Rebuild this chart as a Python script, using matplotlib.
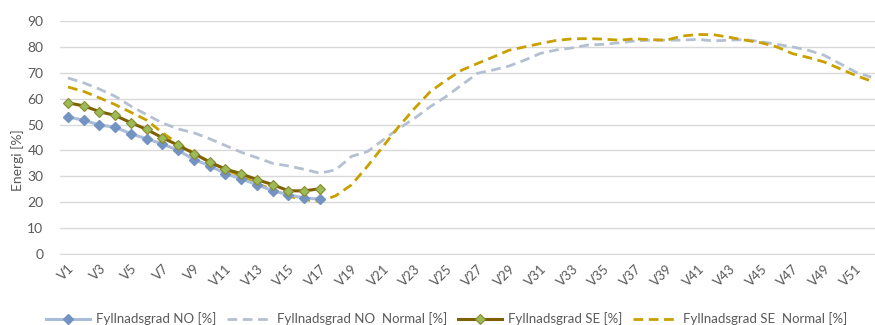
import numpy as np
import matplotlib.pyplot as plt

plt.rcParams['font.family'] = ['Lato', 'DejaVu Sans']

weeks = [f'V{i}' for i in range(1, 53)]

# reservoir filling, current year (weeks 1-17)
no_fill = [52.9, 51.7, 49.8, 49.0, 46.4, 44.5, 42.5, 40.0, 36.5, 34.1,
           31.0, 29.0, 26.8, 24.4, 22.9, 21.6, 21.2]
se_fill = [58.4, 57.2, 55.0, 53.5, 50.7, 48.1, 44.9, 42.0, 38.8, 35.5,
           32.8, 31.0, 28.7, 26.8, 24.4, 24.4, 25.2]

# normal filling per week
no_normal = [68.0, 66.1, 63.7, 60.9, 57.1, 53.8, 50.6, 48.3, 46.8, 44.5,
             41.9, 39.3, 37.2, 35.0, 34.0, 32.7, 31.2, 32.5, 37.7, 39.5,
             44.0, 48.5, 52.4, 56.9, 60.8, 65.3, 69.8, 71.1, 72.6, 74.9,
             77.5, 78.8, 79.6, 80.7, 81.0, 81.6, 82.3, 82.6, 82.6, 82.6,
             82.9, 82.3, 82.6, 82.8, 82.0, 81.0, 80.0, 78.7, 76.8, 73.6,
             70.3, 68.3]
se_normal = [64.5, 62.8, 60.3, 57.7, 54.7, 51.7, 46.8, 42.6, 39.0, 35.5,
             32.6, 30.0, 27.2, 24.9, 22.3, 21.0, 20.3, 22.5, 26.7, 33.8,
             41.5, 49.2, 56.2, 62.7, 67.1, 71.0, 73.6, 76.1, 78.7, 80.0,
             81.3, 82.5, 83.1, 83.2, 83.0, 82.6, 83.1, 82.8, 82.6, 84.2,
             84.8, 84.7, 83.7, 82.6, 81.6, 80.0, 77.4, 75.9, 74.2, 71.6,
             69.0, 66.8]

labels = ['Fyllnadsgrad NO [%]', 'Fyllnadsgrad NO  Normal [%]',
          'Fyllnadsgrad SE [%]', 'Fyllnadsgrad SE  Normal [%]']

W, H = 875, 325
fig = plt.figure(figsize=(W / 100, H / 100), dpi=100)
left, right, top, bottom = 60.1, 875, 21, 254
ax = fig.add_axes([left / W, 1 - bottom / H, (right - left) / W, (bottom - top) / H])

x = np.arange(len(weeks))
step = 15.75
ax.set_xlim(-0.5, -0.5 + (right - left) / step)
ax.set_ylim(0, 90)

ax.plot(x[:len(no_fill)], no_fill, color='#A9BCD9', lw=2.2, marker='D', ms=5,
        mfc='#7393C3', mec='#7393C3', label=labels[0], solid_joinstyle='round', zorder=3)
ax.plot(x, no_normal, color='#B4C0D2', lw=2.0, ls=(0, (3.5, 2)), label=labels[1], zorder=2)
ax.plot(x[:len(se_fill)], se_fill, color='#7F6000', lw=2.2, marker='D', ms=5,
        mfc='#9BBB59', mec='#8A8A2E', mew=0.8, label=labels[2], solid_joinstyle='round', zorder=4)
ax.plot(x, se_normal, color='#C9A000', lw=2.0, ls=(0, (3.5, 2)), label=labels[3], zorder=2)

ax.set_yticks(range(0, 91, 10))
ax.grid(axis='y', color='#D9D9D9', lw=1.0)
ax.set_axisbelow(True)
for s in ['top', 'right', 'left']:
    ax.spines[s].set_visible(False)
ax.spines['bottom'].set_color('#D9D9D9')
ax.tick_params(axis='y', length=0, pad=12, labelsize=10, labelcolor='#595959')
ax.tick_params(axis='x', length=0, pad=6, labelsize=9.5, labelcolor='#595959')

ax.set_xticks(x[::2])
ax.set_xticklabels(weeks[::2], rotation=45, ha='right', rotation_mode='anchor')

fig.text(18 / W, 1 - 160 / H, 'Energi [%]', rotation=90, va='center', ha='center',
         fontsize=10, color='#595959')

fig.legend(loc='center', bbox_to_anchor=(0.51, 1 - 319 / H), ncol=4, frameon=False,
           fontsize=9.5, labelcolor='#595959', handlelength=3.4, columnspacing=0.8,
           handletextpad=0.4)

fig.savefig('out.png', dpi=100)
